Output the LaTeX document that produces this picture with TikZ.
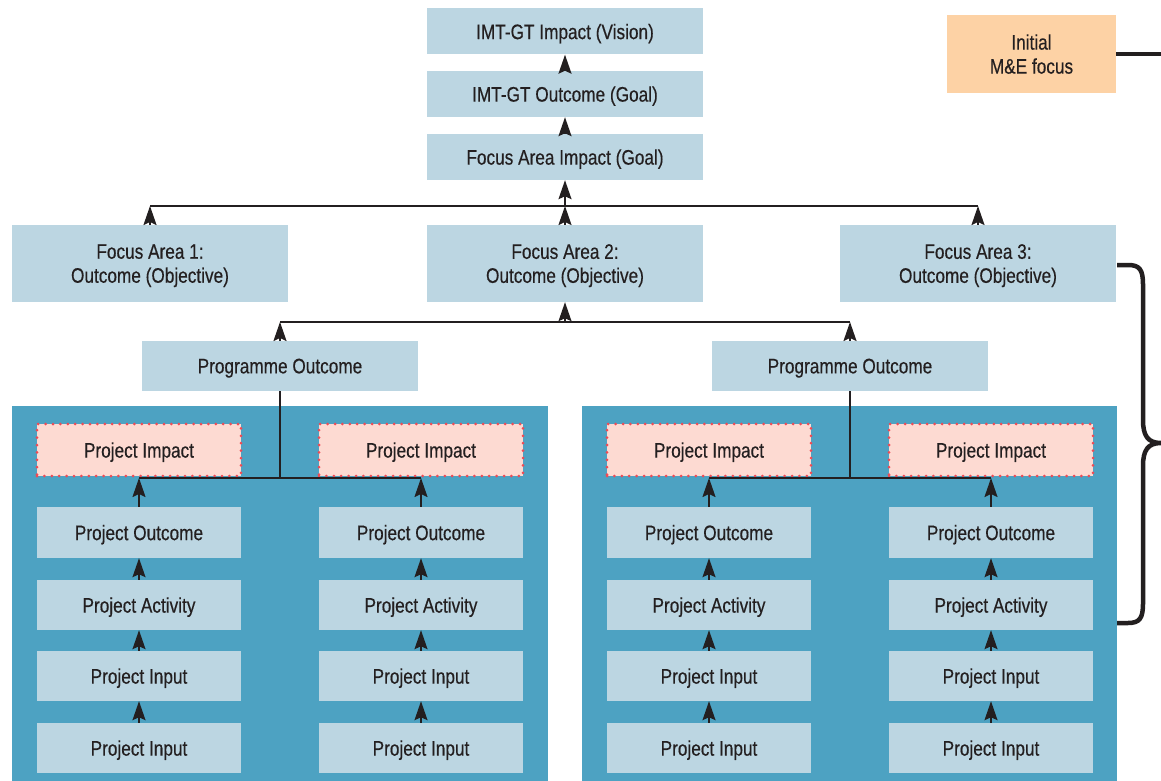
\documentclass[tikz,border=0pt]{standalone}
\usepackage{fontspec}
\setmainfont{Liberation Sans}[FakeStretch=0.82, FakeBold=0.4]
\usetikzlibrary{arrows.meta}
\definecolor{boxblue}{HTML}{BCD6E2}
\definecolor{panelblue}{HTML}{4DA2C2}
\definecolor{impactfill}{HTML}{FDDAD2}
\definecolor{impactline}{HTML}{EE4B55}
\definecolor{mefill}{HTML}{FDD2A5}
\definecolor{ink}{HTML}{231F20}
\tikzset{
  headtip/.tip={Stealth[length=19pt, width=13pt, inset=3pt]}
}
\begin{document}
\begin{tikzpicture}[
  every node/.style={font=\fontsize{21}{24}\selectfont, text=ink, inner sep=0pt,
    align=center, text depth=0pt},
  level/.style={fill=boxblue, minimum width=276pt, minimum height=#1},
  level/.default=46pt,
  projbox/.style={fill=boxblue, minimum width=204pt, minimum height=50pt},
  impactbox/.style={fill=impactfill, draw=impactline, line width=3pt,
    dash pattern=on 0pt off 7.4pt, line cap=round, minimum width=204pt, minimum height=52pt},
  mebox/.style={fill=mefill, minimum width=169pt, minimum height=78pt},
  panel/.style={fill=panelblue},
  link/.style={draw=ink, line width=1.8pt},
  uparrow/.style={link, -headtip},
  heavy/.style={draw=ink, line width=4.5pt}]
% positions are in points, measured downward from the top edge
\tikzset{x=1pt, y=-1pt}
\useasboundingbox (0,0) rectangle (1161,781);

% project panels
\fill[panel] (12,406) rectangle (548,781);
\fill[panel] (582,406) rectangle (1117,781);

% upper hierarchy
\node[level] (vision) at (565,31.5) {IMT-GT Impact (Vision)};
\node[level] (igoal) at (565,94) {IMT-GT Outcome (Goal)};
\node[level] (faimp) at (565,157) {Focus Area Impact (Goal)};
\node[level=77pt] (fa1) at (150,263.5) {Focus Area 1:\\Outcome (Objective)};
\node[level=77pt] (fa2) at (565,263.5) {Focus Area 2:\\Outcome (Objective)};
\node[level=77pt] (fa3) at (978,263.5) {Focus Area 3:\\Outcome (Objective)};
\node[level=50pt] (po1) at (280,366) {Programme Outcome};
\node[level=50pt] (po2) at (850,366) {Programme Outcome};

\node[mebox] (me) at (1031.5,54) {Initial\\M\&E focus};

% project columns
\foreach \c/\x in {a/139, b/421, c/709, d/991} {
  \node[impactbox] (imp\c) at (\x,450) {Project Impact};
  \node[projbox, minimum height=51pt] (out\c) at (\x,532.5) {Project Outcome};
  \node[projbox] (act\c) at (\x,605) {Project Activity};
  \node[projbox] (inA\c) at (\x,676) {Project Input};
  \node[projbox] (inB\c) at (\x,748) {Project Input};
  \draw[uparrow] (inB\c) -- (inA\c);
  \draw[uparrow] (inA\c) -- (act\c);
  \draw[uparrow] (act\c) -- (out\c);
}

% junction points
\coordinate (jtop) at (565,206);
\coordinate (jmid) at (565,322);
\coordinate (jl) at (280,478);
\coordinate (jr) at (850,478);

% top chain
\draw[uparrow] (faimp) -- (igoal);
\draw[uparrow] (igoal) -- (vision);

% focus areas into focus area impact
\draw[link] (fa1.north |- jtop) -- (fa3.north |- jtop);
\draw[uparrow] (fa1.north) -- (fa1.north |- jtop);
\draw[uparrow] (fa2.north) -- (jtop);
\draw[uparrow] (fa3.north) -- (fa3.north |- jtop);
\draw[uparrow] (jtop) -- (faimp.south);

% programme outcomes into focus area 2
\draw[link] (po1.north |- jmid) -- (po2.north |- jmid);
\draw[uparrow] (po1.north) -- (po1.north |- jmid);
\draw[uparrow] (po2.north) -- (po2.north |- jmid);
\draw[uparrow] (jmid) -- (fa2.south);

% project outcomes into programme outcomes
\draw[link] (po1.south) -- (jl);
\draw[link] (outa.north |- jl) -- (outb.north |- jl);
\draw[uparrow] (outa.north) -- (outa.north |- jl);
\draw[uparrow] (outb.north) -- (outb.north |- jl);
\draw[link] (po2.south) -- (jr);
\draw[link] (outc.north |- jr) -- (outd.north |- jr);
\draw[uparrow] (outc.north) -- (outc.north |- jr);
\draw[uparrow] (outd.north) -- (outd.north |- jr);

% initial M&E focus marker and brace
\coordinate (meend) at (1161,54);
\draw[heavy] (me.east) -- (meend);
\coordinate (btop) at (1117,265);
\coordinate (bbot) at (1117,623);
\coordinate (btip) at (1161,443);
\draw[heavy, line join=round]
  (btop) -- (1128,265) .. controls (1140,265) and (1143,270) .. (1143,285)
  -- (1143,420) .. controls (1143,436) and (1148,443) .. (btip)
  .. controls (1148,443) and (1143,450) .. (1143,466)
  -- (1143,603) .. controls (1143,618) and (1140,623) .. (1128,623) -- (bbot);
\end{tikzpicture}
\end{document}
